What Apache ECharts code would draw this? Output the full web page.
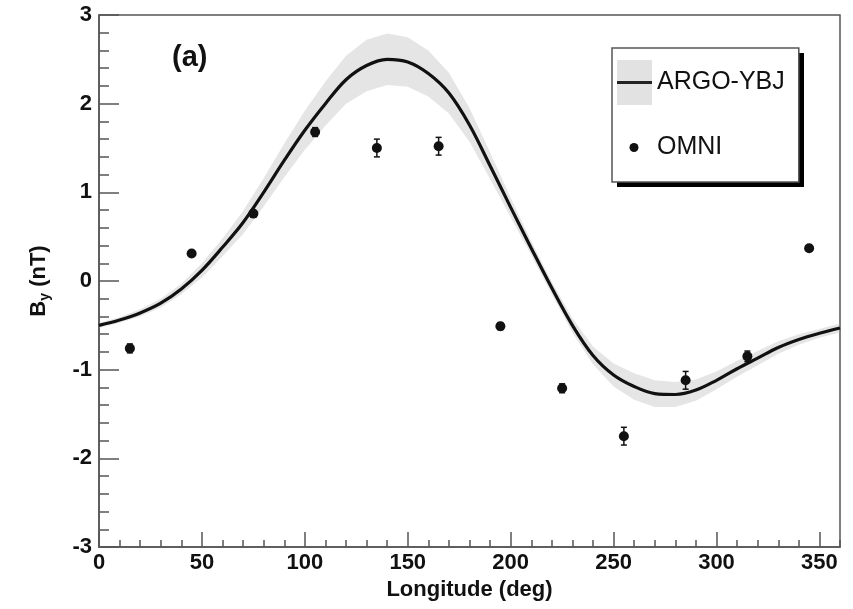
<!DOCTYPE html>
<html>
<head>
<meta charset="utf-8">
<script src="https://cdn.jsdelivr.net/npm/echarts@6/dist/echarts.min.js"></script>
<style>
  html, body { margin: 0; padding: 0; background: #fff; }
  #chart { width: 853px; height: 609px; }
</style>
</head>
<body>
<div id="chart"></div>
<script>
var chart = echarts.init(document.getElementById("chart"), null, { renderer: 'canvas' });

// ARGO-YBJ fit, every 10 deg
let lonFit = [0, 10, 20, 30, 40, 50, 60, 70, 80, 90, 100, 110, 120, 130, 140, 150, 160, 170, 180,
  190, 200, 210, 220, 230, 240, 250, 260, 270, 280, 290, 300, 310, 320, 330, 340, 350, 360];
let argoBy = [-0.50, -0.44, -0.36, -0.25, -0.09, 0.12, 0.38, 0.66, 1.00, 1.36, 1.70, 2.00, 2.27, 2.43, 2.50, 2.47, 2.34, 2.12, 1.76,
  1.30, 0.83, 0.37, -0.08, -0.50, -0.84, -1.06, -1.19, -1.27, -1.28, -1.23, -1.12, -0.99, -0.87, -0.75, -0.66, -0.59, -0.53];
// half width of the shaded band
let argoErr = [0.03, 0.03, 0.04, 0.05, 0.06, 0.08, 0.10, 0.13, 0.16, 0.19, 0.22, 0.25, 0.27, 0.29, 0.29, 0.28, 0.26, 0.23, 0.19,
  0.15, 0.11, 0.08, 0.07, 0.08, 0.10, 0.13, 0.15, 0.15, 0.14, 0.12, 0.10, 0.09, 0.08, 0.07, 0.06, 0.05, 0.05];

// OMNI points
let lonOmni = [15, 45, 75, 105, 135, 165, 195, 225, 255, 285, 315, 345];
let omniBy = [-0.76, 0.31, 0.76, 1.68, 1.50, 1.52, -0.51, -1.21, -1.75, -1.12, -0.85, 0.37];
let omniErr = [0.05, 0.03, 0.03, 0.05, 0.10, 0.10, 0.04, 0.05, 0.10, 0.10, 0.06, 0.03];

let xLabels = [0, 50, 100, 150, 200, 250, 300, 350];
let yLabels = [-3, -2, -1, 0, 1, 2, 3];

const FONT = "'Liberation Sans', Arial, Helvetica, sans-serif";
const AXIS_COLOR = '#555';

let bandRows = lonFit.map((x, i) => [x, argoBy[i] - argoErr[i], argoBy[i] + argoErr[i]]);
let fitRows = lonFit.map((x, i) => [x, argoBy[i]]);
let omniRows = lonOmni.map((x, i) => [x, omniBy[i]]);
let errRows = lonOmni.map((x, i) => [x, omniBy[i], omniErr[i]]);

function svgIcon(body) {
  return 'image://data:image/svg+xml;charset=utf-8,' + encodeURIComponent(
    '<svg xmlns="http://www.w3.org/2000/svg" width="35" height="45" viewBox="0 0 35 45">' + body + '</svg>');
}
let argoIcon = svgIcon('<rect width="35" height="45" fill="#e2e2e2"/><rect y="21" width="35" height="3" fill="#222"/>');
let omniIcon = svgIcon('<circle cx="17" cy="22.5" r="4.5" fill="#111"/>');

let gridBox = { left: 99, right: 13, top: 15, bottom: 62 };

chart.setOption({
  animation: false,
  backgroundColor: '#fff',
  title: {
    text: '(a)',
    left: 172,
    top: 43,
    padding: 0,
    textStyle: { fontFamily: FONT, fontWeight: 'bold', fontSize: 29, color: '#111' }
  },
  // drop shadow of the legend box
  graphic: [{
    type: 'rect',
    z: 2,
    silent: true,
    shape: { x: 617, y: 53, width: 187, height: 134 },
    style: { fill: '#000' }
  }],
  legend: {
    orient: 'vertical',
    left: 612,
    top: 48,
    z: 5,
    padding: [12, 14, 12, 5],
    itemWidth: 35,
    itemHeight: 45,
    itemGap: 20,
    selectedMode: false,
    backgroundColor: '#fff',
    borderColor: AXIS_COLOR,
    borderWidth: 1.5,
    borderRadius: 0,
    textStyle: { fontFamily: FONT, fontSize: 25, color: '#111' },
    data: [
      { name: 'ARGO-YBJ', icon: argoIcon },
      { name: 'OMNI', icon: omniIcon }
    ]
  },
  grid: [
    Object.assign({ show: true, borderColor: AXIS_COLOR, borderWidth: 1.5, backgroundColor: '#fff' }, gridBox),
    Object.assign({ show: false }, gridBox)
  ],
  xAxis: [
    {
      type: 'value', gridIndex: 0, min: 0, max: 360, interval: 50,
      name: 'Longitude (deg)', nameLocation: 'middle', nameGap: 30,
      nameTextStyle: { fontFamily: FONT, fontWeight: 'bold', fontSize: 22, color: '#111' },
      axisLine: { show: true, onZero: false, lineStyle: { color: AXIS_COLOR, width: 1.5 } },
      axisTick: { show: true, inside: true, length: 15, lineStyle: { color: AXIS_COLOR, width: 1.5 } },
      axisLabel: {
        margin: 5, showMaxLabel: false, color: '#111',
        fontFamily: FONT, fontWeight: 'bold', fontSize: 22,
        formatter: v => (xLabels.indexOf(v) >= 0 ? String(v) : '')
      },
      splitLine: { show: false }
    },
    {
      type: 'value', gridIndex: 1, min: 0, max: 360, interval: 10,
      axisLine: { show: false, onZero: false },
      axisTick: { show: true, inside: true, length: 7, lineStyle: { color: AXIS_COLOR, width: 1.5 } },
      axisLabel: { show: false },
      splitLine: { show: false }
    }
  ],
  yAxis: [
    {
      type: 'value', gridIndex: 0, min: -3, max: 3, interval: 1,
      name: '{b|B}{s|y}{b| (nT)}', nameLocation: 'middle', nameGap: 46,
      nameTextStyle: {
        rich: {
          b: { fontFamily: FONT, fontWeight: 'bold', fontSize: 22, lineHeight: 28, color: '#111' },
          s: { fontFamily: FONT, fontWeight: 'bold', fontSize: 14, lineHeight: 28, color: '#111', padding: [12, 0, 0, 0] }
        }
      },
      axisLine: { show: true, onZero: false, lineStyle: { color: AXIS_COLOR, width: 1.5 } },
      axisTick: { show: true, inside: true, length: 20, lineStyle: { color: AXIS_COLOR, width: 1.5 } },
      minorTick: { show: true, splitNumber: 5, length: 10, lineStyle: { color: AXIS_COLOR, width: 1.5 } },
      axisLabel: {
        margin: 7, color: '#111', fontFamily: FONT, fontWeight: 'bold', fontSize: 22,
        formatter: v => (yLabels.indexOf(v) >= 0 ? String(v) : '')
      },
      splitLine: { show: false }
    },
    { type: 'value', gridIndex: 1, min: -3, max: 3, show: false }
  ],
  series: [
    {
      name: 'band',
      type: 'custom',
      xAxisIndex: 0, yAxisIndex: 0,
      silent: true,
      encode: { x: 0, y: [1, 2] },
      data: bandRows,
      renderItem: function (params, api) {
        if (params.dataIndex !== 0) return null;
        let pts = [];
        for (let i = 0; i < bandRows.length; i++) pts.push(api.coord([bandRows[i][0], bandRows[i][2]]));
        for (let i = bandRows.length - 1; i >= 0; i--) pts.push(api.coord([bandRows[i][0], bandRows[i][1]]));
        return {
          type: 'polygon',
          shape: { points: pts },
          style: { fill: 'rgba(170,170,170,0.3)', stroke: null }
        };
      },
      z: 1
    },
    {
      name: 'ARGO-YBJ',
      type: 'line',
      xAxisIndex: 0, yAxisIndex: 0,
      data: fitRows,
      smooth: 0.35,
      symbol: 'none',
      lineStyle: { color: '#111', width: 3.2 },
      itemStyle: { color: '#111' },
      z: 3
    },
    {
      name: 'errors',
      type: 'custom',
      xAxisIndex: 0, yAxisIndex: 0,
      silent: true,
      encode: { x: 0, y: 1 },
      data: errRows,
      renderItem: function (params, api) {
        let x = api.value(0), y = api.value(1), e = api.value(2);
        let lo = api.coord([x, y - e]);
        let hi = api.coord([x, y + e]);
        let st = { stroke: '#111', lineWidth: 1.5 };
        return {
          type: 'group',
          children: [
            { type: 'line', shape: { x1: lo[0], y1: lo[1], x2: hi[0], y2: hi[1] }, style: st },
            { type: 'line', shape: { x1: lo[0] - 3, y1: lo[1], x2: lo[0] + 3, y2: lo[1] }, style: st },
            { type: 'line', shape: { x1: hi[0] - 3, y1: hi[1], x2: hi[0] + 3, y2: hi[1] }, style: st }
          ]
        };
      },
      z: 4
    },
    {
      name: 'OMNI',
      type: 'scatter',
      xAxisIndex: 0, yAxisIndex: 0,
      data: omniRows,
      symbol: 'circle',
      symbolSize: 10,
      itemStyle: { color: '#111', opacity: 1 },
      z: 5
    }
  ]
});
</script>
</body>
</html>
